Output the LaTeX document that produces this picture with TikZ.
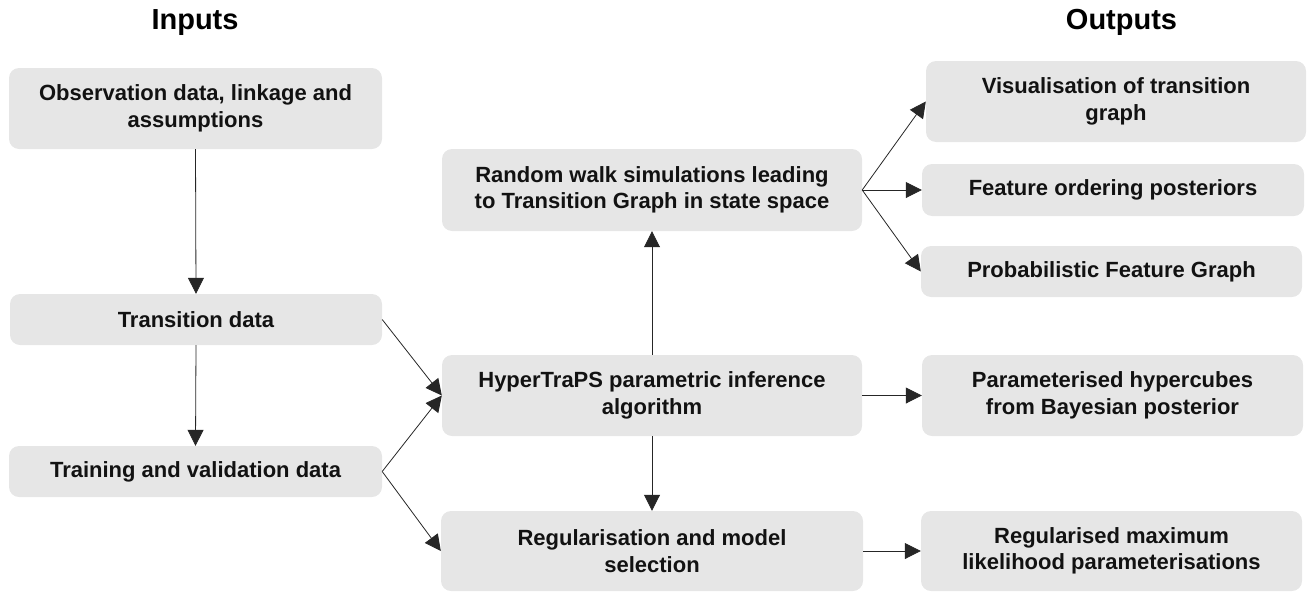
\documentclass[tikz,border=0pt]{standalone}
\usepackage{fontspec}
\setmainfont{Liberation Sans}
\usetikzlibrary{arrows.meta}
\definecolor{boxgray}{RGB}{230,230,230}
\begin{document}
\begin{tikzpicture}[x=1pt,y=-1pt,
  boxnode/.style={fill=boxgray, rounded corners=10pt, inner sep=0pt, align=center,
    font=\fontsize{22}{26.4}\selectfont\bfseries, text=black!93},
  titlenode/.style={font=\fontsize{29}{34}\selectfont\bfseries, anchor=base, inner sep=0pt},
  conn/.style={line width=0.8pt, black!85, -{Triangle[length=16pt,width=16pt]}}]
\useasboundingbox (0,0) rectangle (1309,592);
\node[titlenode] (tin) at (195,29) {Inputs};
\node[titlenode] (tout) at (1121.5,29) {Outputs};
\node[boxnode, minimum width=373pt, minimum height=81pt] (obs) at (195.5,108.5) {Observation data, linkage and\\assumptions};
\node[boxnode, minimum width=372pt, minimum height=51pt] (trans) at (196,319.5) {Transition data};
\node[boxnode, minimum width=373pt, minimum height=51pt] (train) at (195.5,471.5) {Training and validation data};
\node[boxnode, minimum width=420pt, minimum height=82pt] (rw) at (652,190) {Random walk simulations leading\\to Transition Graph in state space};
\node[boxnode, minimum width=420pt, minimum height=81pt] (hyp) at (652,395.5) {HyperTraPS parametric inference\\algorithm};
\node[boxnode, minimum width=422pt, minimum height=80pt] (reg) at (652,551) {Regularisation and model\\selection};
\node[boxnode, minimum width=380pt, minimum height=81pt] (vis) at (1116,101.5) {Visualisation of transition\\graph};
\node[boxnode, minimum width=382pt, minimum height=52pt] (feat) at (1113,190) {Feature ordering posteriors};
\node[boxnode, minimum width=381pt, minimum height=51pt] (prob) at (1111.5,271.5) {Probabilistic Feature Graph};
\node[boxnode, minimum width=381pt, minimum height=81pt] (param) at (1112.5,395.5) {Parameterised hypercubes\\from Bayesian posterior};
\node[boxnode, minimum width=381pt, minimum height=80pt] (regml) at (1111.5,551) {Regularised maximum\\likelihood parameterisations};
\draw[conn] (obs.south) -- (trans.north);
\draw[conn] (trans.south) -- (train.north);
\draw[conn] (trans.east) -- (hyp.west);
\draw[conn] (train.east) -- (hyp.west);
\draw[conn] (train.east) -- (reg.west);
\draw[conn] (hyp.north) -- (rw.south);
\draw[conn] (hyp.south) -- (reg.north);
\draw[conn] (rw.east) -- (vis.west);
\draw[conn] (rw.east) -- (feat.west);
\draw[conn] (rw.east) -- (prob.west);
\draw[conn] (hyp.east) -- (param.west);
\draw[conn] (reg.east) -- (regml.west);
\end{tikzpicture}
\end{document}
